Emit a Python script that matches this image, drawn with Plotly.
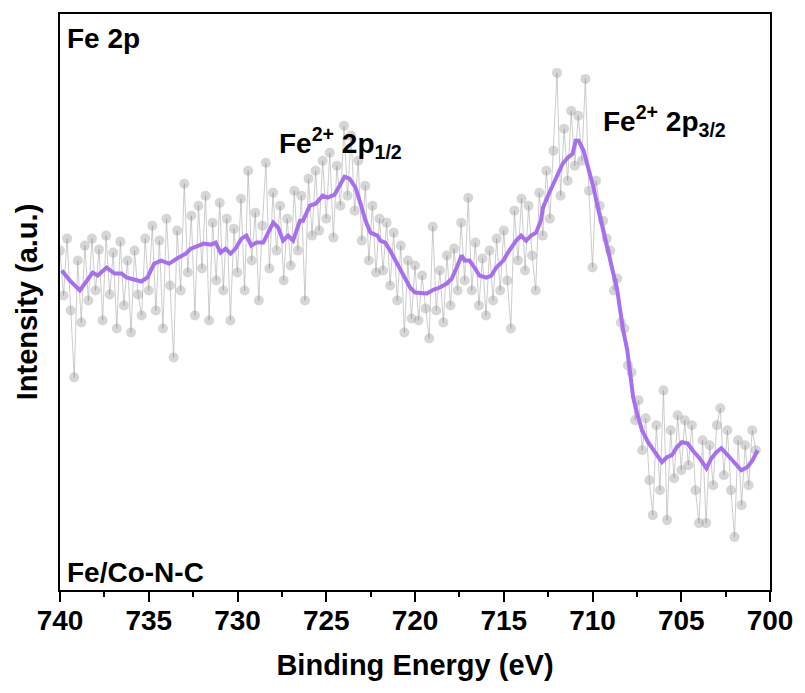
import plotly.graph_objects as go

# Smoothed Fe 2p curve (binding energy in eV, intensity in a.u.)
smooth_be = [739.90, 739.44, 738.88, 738.51, 738.16, 737.88, 737.37, 736.93, 736.54, 736.26,
             735.81, 735.42, 735.08, 734.69, 734.30, 733.85, 733.41, 732.91, 732.63, 732.29,
             731.90, 731.51, 731.23, 730.95, 730.67, 730.39, 730.11, 729.78, 729.50, 729.22,
             728.94, 728.55, 728.27, 727.99, 727.71, 727.43, 727.15, 726.87, 726.48, 726.31,
             725.92, 725.59, 725.20, 724.92, 724.53, 724.25, 723.97, 723.69, 723.35, 723.07,
             722.79, 722.51, 722.12, 721.96, 721.68, 721.40, 721.01, 720.61, 720.28, 720.00,
             719.61, 719.33, 718.94, 718.60, 718.21, 717.93, 717.65, 717.37, 717.21, 716.93,
             716.65, 716.37, 715.98, 715.70, 715.42, 715.03, 714.69, 714.30, 714.02, 713.74,
             713.46, 713.18, 712.91, 712.79, 712.46, 712.07, 711.68, 711.40, 711.12, 710.95,
             710.78, 710.50, 710.22, 709.94, 709.66, 709.39, 709.11, 708.83, 708.60, 708.44,
             708.27, 708.04, 707.88, 707.71, 707.49, 707.21, 706.87, 706.48, 706.09, 705.81,
             705.53, 705.25, 704.97, 704.64, 704.36, 703.97, 703.58, 703.30, 703.02, 702.74,
             702.46, 702.12, 701.62, 701.28, 700.98, 700.70]
smooth_int = [320, 310, 300, 310, 318, 315, 323, 317, 317, 313,
              311, 309, 313, 327, 330, 327, 332, 337, 342, 344,
              347, 346, 348, 338, 342, 337, 342, 352, 355, 345,
              348, 348, 357, 368, 363, 350, 355, 350, 370, 370,
              385, 387, 395, 393, 396, 405, 414, 412, 403, 387,
              370, 358, 355, 350, 348, 340, 327, 313, 303, 298,
              298, 297, 301, 303, 307, 312, 323, 335, 330, 330,
              323, 315, 313, 315, 323, 330, 340, 350, 355, 350,
              355, 358, 370, 383, 397, 413, 427, 433, 437, 450,
              450, 440, 423, 403, 380, 360, 340, 317, 300, 280,
              260, 240, 217, 193, 177, 160, 148, 138, 128, 133,
              135, 143, 148, 147, 140, 132, 122, 132, 138, 142,
              137, 130, 120, 123, 130, 140]

# Raw measured points, 740.0 eV downwards in 0.2 eV steps
raw_start = 740.0
raw_step = 0.2
raw_int = [340, 295, 352, 280, 213, 330, 268, 345, 290, 352,
           300, 341, 270, 355, 296, 338, 262, 349, 285, 330,
           258, 340, 296, 275, 352, 300, 365, 280, 350, 262,
           372, 305, 233, 360, 300, 407, 318, 375, 275, 385,
           322, 395, 270, 368, 310, 388, 300, 372, 270, 362,
           318, 392, 300, 420, 330, 378, 290, 365, 428, 322,
           398, 340, 385, 310, 372, 325, 400, 340, 395, 290,
           412, 355, 420, 360, 430, 372, 438, 353, 425, 385,
           465, 395, 455, 380, 430, 350, 405, 330, 385, 318,
           372, 320, 368, 305, 358, 290, 345, 258, 330, 272,
           325, 270, 315, 282, 252, 364, 280, 320, 268, 335,
           285, 342, 300, 368, 310, 393, 300, 348, 285, 332,
           275, 340, 290, 352, 300, 360, 310, 262, 380, 330,
           392, 320, 385, 335, 300, 398, 355, 420, 372, 440,
           518, 395, 462, 410, 480, 425, 475, 430, 512, 400,
           323, 410, 385, 370, 352, 340, 300, 312, 268, 262,
           225, 218, 170, 190, 140, 172, 110, 75, 165, 100,
           200, 70, 160, 112, 175, 120, 170, 125, 165, 100,
           67, 150, 67, 145, 105, 165, 182, 115, 160, 100,
           53, 150, 85, 145, 105, 160, 140]
raw_be = [round(raw_start - raw_step * i, 1) for i in range(len(raw_int))]

x_ticks = [740, 735, 730, 725, 720, 715, 710, 705, 700]

FONT = "Liberation Sans, Arial, sans-serif"

fig = go.Figure()
fig.add_trace(go.Scatter(
    x=raw_be, y=raw_int, mode="lines+markers",
    line=dict(color="rgba(170,170,170,0.75)", width=0.8),
    marker=dict(size=10, color="rgba(140,140,140,0.36)", line=dict(width=0)),
    showlegend=False, hoverinfo="skip"))
fig.add_trace(go.Scatter(
    x=smooth_be, y=smooth_int, mode="lines",
    line=dict(color="#a66ff0", width=4),
    showlegend=False))

fig.update_layout(
    width=805, height=693,
    margin=dict(l=60, r=29, t=13, b=103),
    paper_bgcolor="white", plot_bgcolor="white",
    font=dict(family=FONT, size=28, color="black"),
    xaxis=dict(
        range=[740, 700], tickvals=x_ticks, ticktext=[str(v) for v in x_ticks],
        ticks="outside", ticklen=10, tickwidth=2, tickcolor="black",
        ticklabelstandoff=-6,
        minor=dict(dtick=2.5, tick0=700, ticks="outside", ticklen=5, tickwidth=2, tickcolor="black"),
        showline=True, linecolor="black", linewidth=2, mirror=True,
        showgrid=False, zeroline=False,
        tickfont=dict(family=FONT, size=28, color="black", weight="bold"),
        title=dict(text="Binding Energy (eV)", standoff=20,
                   font=dict(family=FONT, size=29, color="black", weight="bold")),
    ),
    yaxis=dict(
        range=[0, 577], showticklabels=False, ticks="",
        showline=True, linecolor="black", linewidth=2, mirror=True,
        showgrid=False, zeroline=False,
        title=dict(text="Intensity (a.u.)", standoff=12,
                   font=dict(family=FONT, size=29, color="black", weight="bold")),
    ),
)

ann_font = dict(family=FONT, size=28, color="black", weight="bold")
fig.add_annotation(x=0.007, y=0.957, xref="paper", yref="paper", text="Fe 2p",
                   showarrow=False, xanchor="left", yanchor="middle", font=ann_font)
fig.add_annotation(x=0.007, y=0.031, xref="paper", yref="paper", text="Fe/Co-N-C",
                   showarrow=False, xanchor="left", yanchor="middle", font=ann_font)
fig.add_annotation(x=727.8, y=448, text="Fe<sup>2+</sup> 2p<sub>1/2</sub>",
                   showarrow=False, xanchor="left", yanchor="middle", font=ann_font)
fig.add_annotation(x=709.5, y=470, text="Fe<sup>2+</sup> 2p<sub>3/2</sub>",
                   showarrow=False, xanchor="left", yanchor="middle", font=ann_font)

fig.write_html("out.html")
